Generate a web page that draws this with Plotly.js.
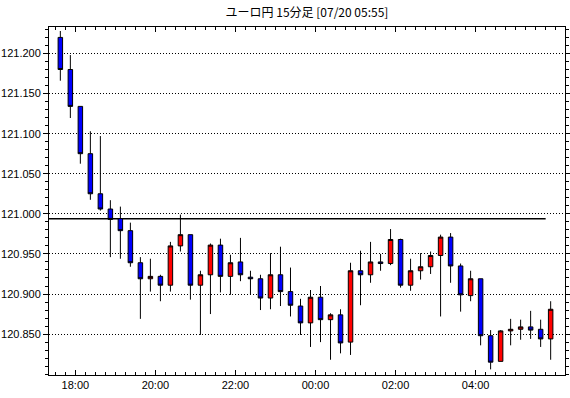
<!DOCTYPE html>
<html>
<head>
<meta charset="utf-8">
<script src="https://cdn.plot.ly/plotly-3.0.1.min.js"></script>
<style>html,body{margin:0;padding:0;background:#fff;}#chart{width:570px;height:398px;}</style>
</head>
<body>
<div id="chart"></div>
<script>
// 15-minute bar start times (17:30 on 07/19 through 05:45 on 07/20)
const barTimes = [
  "17:30","17:45","18:00","18:15","18:30","18:45","19:00","19:15","19:30","19:45",
  "20:00","20:15","20:30","20:45","21:00","21:15","21:30","21:45","22:00","22:15",
  "22:30","22:45","23:00","23:15","23:30","23:45","00:00","00:15","00:30","00:45",
  "01:00","01:15","01:30","01:45","02:00","02:15","02:30","02:45","03:00","03:15",
  "03:30","03:45","04:00","04:15","04:30","04:45","05:00","05:15","05:30","05:45"
];
const openVals = [
  121.220,121.180,121.134,121.075,121.025,121.006,120.994,120.979,120.939,120.919,
  120.922,120.911,120.960,120.974,120.911,120.924,120.961,120.922,120.940,120.921,
  120.919,120.895,120.924,120.903,120.885,120.864,120.896,120.868,120.874,120.840,
  120.929,120.924,120.940,120.938,120.968,120.911,120.929,120.934,120.948,120.971,
  120.935,120.898,120.919,120.848,120.816,120.854,120.856,120.859,120.856,120.844
];
const highVals = [
  121.228,121.198,121.134,121.103,121.097,121.017,121.009,120.989,120.946,120.944,
  120.924,120.965,120.999,120.974,120.929,120.963,120.969,120.949,120.970,120.929,
  120.924,120.951,120.959,120.933,120.894,120.905,120.910,120.876,120.881,120.939,
  120.954,120.965,120.950,120.981,120.969,120.944,120.951,120.953,120.974,120.976,
  120.938,120.929,120.919,120.855,120.855,120.869,120.868,120.879,120.868,120.891
];
const lowVals = [
  121.166,121.1195,121.0625,121.0175,121.004,120.946,120.944,120.934,120.869,120.903,
  120.891,120.903,120.953,120.893,120.849,120.875,120.902,120.899,120.916,120.899,
  120.880,120.881,120.885,120.872,120.849,120.834,120.840,120.818,120.826,120.824,
  120.886,120.914,120.929,120.936,120.908,120.904,120.918,120.925,120.872,120.914,
  120.878,120.891,120.836,120.806,120.816,120.836,120.843,120.844,120.834,120.818
];
const closeVals = [
  121.180,121.134,121.075,121.025,121.006,120.993,120.979,120.939,120.919,120.922,
  120.911,120.960,120.974,120.911,120.924,120.961,120.922,120.939,120.924,120.919,
  120.895,120.924,120.903,120.886,120.864,120.896,120.868,120.874,120.839,120.929,
  120.924,120.940,120.938,120.968,120.911,120.929,120.934,120.948,120.971,120.935,
  120.899,120.919,120.848,120.815,120.854,120.856,120.859,120.855,120.844,120.881
];
const yTickVals = [120.85, 120.90, 120.95, 121.00, 121.05, 121.10, 121.15, 121.20];
const yTickText = ["120.850","120.900","120.950","121.000","121.050","121.100","121.150","121.200"];
const xTickVals = ["2023-07-19 18:00","2023-07-19 20:00","2023-07-19 22:00","2023-07-20 00:00","2023-07-20 02:00","2023-07-20 04:00"];
const xTickText = ["18:00","20:00","22:00","00:00","02:00","04:00"];
const refLevel = 120.994;          // horizontal reference line
const refLineEnd = "2023-07-20 05:45";
const titleText = "ユーロ円 15分足 [07/20 05:55]";

// bar centers: middle of each 15-minute interval
const xCenters = barTimes.map(t => {
  const hh = parseInt(t.slice(0,2),10);
  const mm = parseInt(t.slice(3,5),10) + 7;
  const day = hh >= 12 ? "2023-07-19" : "2023-07-20";
  return day + " " + t.slice(0,2) + ":" + String(mm).padStart(2,"0") + ":30";
});

const trace = {
  type: "candlestick",
  x: xCenters,
  open: openVals, high: highVals, low: lowVals, close: closeVals,
  increasing: {line: {color: "#000000", width: 1}, fillcolor: "#ff0000"},
  decreasing: {line: {color: "#000000", width: 1}, fillcolor: "#0000ff"},
  whiskerwidth: 0,
  showlegend: false,
  hoverinfo: "skip"
};

const tickFont = {family: "Liberation Sans, Arial, sans-serif", size: 11, color: "#000"};
const xRange = ["2023-07-19 17:20:30", "2023-07-20 06:14:00"];

const layout = {
  width: 570, height: 398,
  paper_bgcolor: "#ffffff", plot_bgcolor: "#ffffff",
  margin: {l: 49, r: 5, t: 27, b: 23, pad: 0},
  boxgap: 0.36,
  title: {
    text: titleText,
    x: 0.5, xref: "paper", xanchor: "center",
    y: 1 - 13/398, yref: "container", yanchor: "middle",
    font: {family: "Noto Sans CJK JP, sans-serif", size: 12, color: "#000"}
  },
  xaxis: {
    type: "date",
    range: xRange,
    rangeslider: {visible: false},
    tickmode: "array", tickvals: xTickVals, ticktext: xTickText,
    ticks: "inside", ticklen: 5, tickcolor: "#000", tickwidth: 1,
    minor: {tickmode: "linear", dtick: 900000, tick0: "2023-07-19 18:00:00", ticks: "inside", ticklen: 3, tickcolor: "#000", showgrid: false},
    showline: true, linecolor: "#000", linewidth: 1, mirror: "allticks",
    showgrid: false, zeroline: false,
    tickfont: tickFont
  },
  yaxis: {
    range: [120.799, 121.233],
    tickmode: "array", tickvals: yTickVals, ticktext: yTickText,
    ticks: "outside", ticklen: 5, tickcolor: "#000", tickwidth: 1,
    minor: {tickmode: "linear", dtick: 0.01, tick0: 120.85, ticks: "outside", ticklen: 3, tickcolor: "#000", showgrid: false},
    showline: true, linecolor: "#000", linewidth: 1, mirror: "allticks",
    showgrid: true, gridcolor: "#000", gridwidth: 1, griddash: "1px,2px",
    zeroline: false,
    tickfont: tickFont
  },
  shapes: [{
    type: "line", layer: "below",
    xref: "x", x0: xRange[0], x1: refLineEnd,
    yref: "y", y0: refLevel, y1: refLevel,
    line: {color: "#000", width: 1.5}
  }]
};

Plotly.newPlot("chart", [trace], layout, {displayModeBar: false, staticPlot: true});
</script>
</body>
</html>
